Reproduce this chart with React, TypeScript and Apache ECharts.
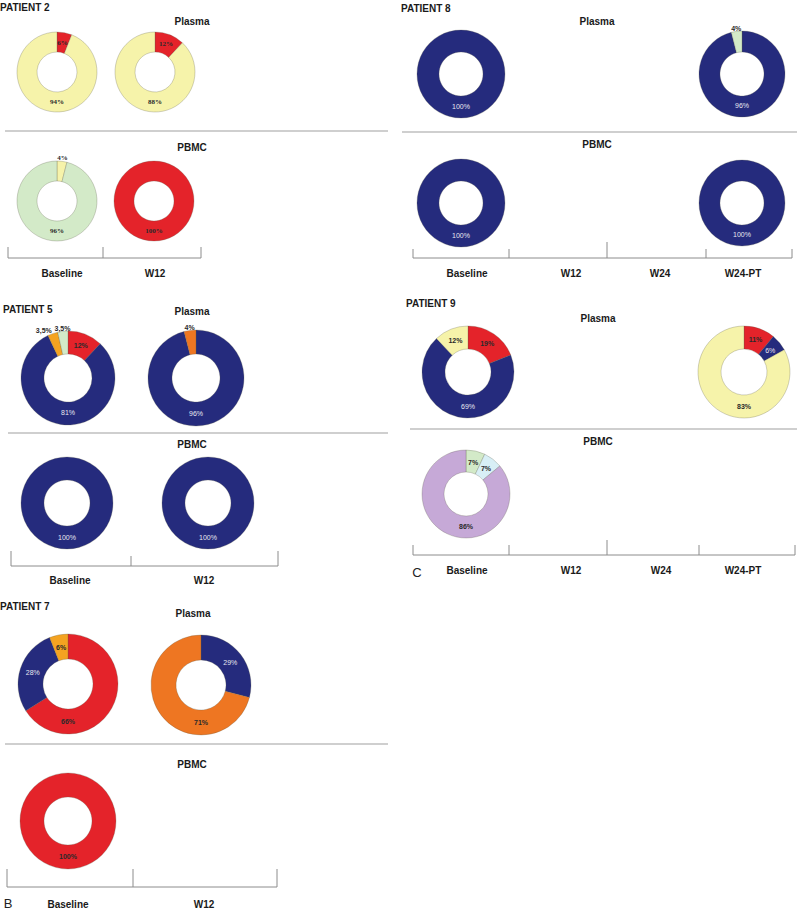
import React, { useEffect, useRef } from "react";
import * as echarts from "echarts";

// ---------- DATA ----------
const timepointsShort = ["Baseline", "W12"];
const timepointsLong = ["Baseline", "W12", "W24", "W24-PT"];

const p2PlasmaBaseline = [6, 94];
const p2PlasmaW12 = [12, 88];
const p2PbmcBaseline = [4, 96];
const p2PbmcW12 = [100];

const p5PlasmaBaseline = [12, 81, 3.5, 3.5];
const p5PlasmaW12 = [96, 4];
const p5PbmcBaseline = [100];
const p5PbmcW12 = [100];

const p7PlasmaBaseline = [66, 28, 6];
const p7PlasmaW12 = [29, 71];
const p7PbmcBaseline = [100];

const p8PlasmaBaseline = [100];
const p8PlasmaW24PT = [96, 4];
const p8PbmcBaseline = [100];
const p8PbmcW24PT = [100];

const p9PlasmaBaseline = [19, 69, 12];
const p9PlasmaW24PT = [11, 6, 83];
const p9PbmcBaseline = [7, 7, 86];

// ---------- STYLE ----------
const RED = "#E4232A";
const YEL = "#F6F3AA";
const LGRN = "#D3EAC8";
const NAVY = "#252B7D";
const ORG = "#EE7622";
const AMB = "#F4A321";
const LAV = "#C6A9D7";
const LBLU = "#D8EFF6";

type Donut = { values: number[]; colors: string[]; cx: number; cy: number; r: number; serif?: boolean };

const donuts: Donut[] = [
  { values: p2PlasmaBaseline, colors: [RED, YEL], cx: 57, cy: 72, r: 40, serif: true },
  { values: p2PlasmaW12, colors: [RED, YEL], cx: 155, cy: 72, r: 40, serif: true },
  { values: p2PbmcBaseline, colors: [YEL, LGRN], cx: 57, cy: 201, r: 40, serif: true },
  { values: p2PbmcW12, colors: [RED], cx: 154, cy: 201, r: 40, serif: true },

  { values: p5PlasmaBaseline, colors: [RED, NAVY, AMB, LGRN], cx: 68, cy: 378, r: 47 },
  { values: p5PlasmaW12, colors: [NAVY, ORG], cx: 196, cy: 378, r: 48 },
  { values: p5PbmcBaseline, colors: [NAVY], cx: 67, cy: 503, r: 46 },
  { values: p5PbmcW12, colors: [NAVY], cx: 208, cy: 503, r: 46 },

  { values: p7PlasmaBaseline, colors: [RED, NAVY, AMB], cx: 68, cy: 684, r: 50 },
  { values: p7PlasmaW12, colors: [NAVY, ORG], cx: 201, cy: 685, r: 50 },
  { values: p7PbmcBaseline, colors: [RED], cx: 68, cy: 821, r: 48 },

  { values: p8PlasmaBaseline, colors: [NAVY], cx: 461, cy: 74, r: 44 },
  { values: p8PlasmaW24PT, colors: [NAVY, LGRN], cx: 742, cy: 74, r: 43 },
  { values: p8PbmcBaseline, colors: [NAVY], cx: 461, cy: 203, r: 44 },
  { values: p8PbmcW24PT, colors: [NAVY], cx: 742, cy: 203, r: 43 },

  { values: p9PlasmaBaseline, colors: [RED, NAVY, YEL], cx: 468, cy: 372, r: 46 },
  { values: p9PlasmaW24PT, colors: [RED, NAVY, YEL], cx: 744, cy: 372, r: 46 },
  { values: p9PbmcBaseline, colors: [LGRN, LBLU, LAV], cx: 466, cy: 494, r: 44 },
];

type Panel = {
  title: string; tx: number; ty: number;
  plasma: [number, number]; pbmc: [number, number];
  sepY: number; sepX1: number; sepX2: number;
  brY: number; brTop: number; ticks: number[]; midTickTop?: number;
  labels: string[]; labelX: number[]; labelY: number;
  letter?: [string, number, number];
};

const panels: Panel[] = [
  { title: "PATIENT 2", tx: 0, ty: 7, plasma: [192, 21], pbmc: [192, 147], sepY: 131, sepX1: 5, sepX2: 388,
    brY: 258, brTop: 247, ticks: [8, 103, 201], labels: timepointsShort, labelX: [62, 155], labelY: 273 },
  { title: "PATIENT 5", tx: 3, ty: 309, plasma: [192, 311], pbmc: [192, 444], sepY: 433, sepX1: 8, sepX2: 388,
    brY: 566, brTop: 551, ticks: [11, 131, 278], midTickTop: 556, labels: timepointsShort, labelX: [70, 204], labelY: 580 },
  { title: "PATIENT 7", tx: 0, ty: 606, plasma: [193, 613], pbmc: [192, 764], sepY: 744, sepX1: 5, sepX2: 388,
    brY: 887, brTop: 869, ticks: [7, 133, 277], labels: timepointsShort, labelX: [68, 204], labelY: 904, letter: ["B", 8, 903] },
  { title: "PATIENT 8", tx: 401, ty: 8, plasma: [597, 21], pbmc: [597, 144], sepY: 132, sepX1: 402, sepX2: 797,
    brY: 258, brTop: 249, ticks: [413, 509, 607, 706, 792], midTickTop: 242, labels: timepointsLong, labelX: [467, 571, 660, 743], labelY: 273 },
  { title: "PATIENT 9", tx: 406, ty: 303, plasma: [598, 318], pbmc: [598, 441], sepY: 429, sepX1: 410, sepX2: 797,
    brY: 555, brTop: 545, ticks: [413, 509, 607, 699, 795], midTickTop: 540, labels: timepointsLong, labelX: [467, 571, 661, 743], labelY: 570, letter: ["C", 417, 572] },
];

const SANS = "Liberation Sans, Arial, sans-serif";
const SERIF = "Liberation Serif, Times New Roman, serif";
const SMALL = 5; // slices below this percentage get their label outside

function fmt(v: number) {
  return String(v).replace(".", ",") + "%";
}

function txt(x: number, y: number, s: string, size: number, weight: string, align: string = "center", family = SANS, fill = "#1a1a1a") {
  return {
    type: "text", x, y, silent: true,
    style: { text: s, fontSize: size, fontWeight: weight, fontFamily: family, fill, align, verticalAlign: "middle" },
  };
}
function ln(x1: number, y1: number, x2: number, y2: number, stroke = "#8c8c8c", w = 1) {
  return { type: "line", silent: true, shape: { x1, y1, x2, y2 }, style: { stroke, lineWidth: w } };
}

// label placement in the spirit of the original: big slice containing the bottom gets its label at the bottom,
// small slices get an outside label, others at the slice's mid angle
function labelPlacer(d: Donut) {
  const total = d.values.reduce((a, b) => a + b, 0);
  const spans: [number, number][] = [];
  let cum = 0;
  d.values.forEach((v) => {
    spans.push([(cum / total) * 360, ((cum + v) / total) * 360]);
    cum += v;
  });
  return (params: any) => {
    const i = params.dataIndex;
    const v = d.values[i];
    const [a0, a1] = spans[i];
    const outside = v < SMALL;
    let ang = (a0 + a1) / 2;
    if (!outside && a0 <= 180 && a1 >= 180) ang = 180;
    const rad = (ang * Math.PI) / 180;
    const rr = outside ? d.r + 3 : d.r * 0.74;
    const x = d.cx + rr * Math.sin(rad);
    const y = d.cy - rr * Math.cos(rad);
    let align = "center";
    if (outside && i + 1 < d.values.length && d.values[i + 1] < SMALL) align = "right";
    return { x, y, align, verticalAlign: "middle", hideOverlap: false, moveOverlap: undefined };
  };
}

function buildOption() {
  const graphic: any[] = [];
  panels.forEach((p) => {
    graphic.push(txt(p.tx, p.ty, p.title, 10, "bold", "left"));
    graphic.push(txt(p.plasma[0], p.plasma[1], "Plasma", 10, "bold"));
    graphic.push(txt(p.pbmc[0], p.pbmc[1], "PBMC", 10, "bold"));
    graphic.push(ln(p.sepX1, p.sepY, p.sepX2, p.sepY, "#a0a0a0", 1.2));
    graphic.push(ln(p.ticks[0], p.brY, p.ticks[p.ticks.length - 1], p.brY));
    p.ticks.forEach((t, i) => {
      const isMid = p.midTickTop !== undefined && i === Math.floor(p.ticks.length / 2);
      graphic.push(ln(t, isMid ? (p.midTickTop as number) : p.brTop, t, p.brY));
    });
    p.labels.forEach((l, i) => graphic.push(txt(p.labelX[i], p.labelY, l, 10, "bold")));
    if (p.letter) graphic.push(txt(p.letter[1], p.letter[2], p.letter[0], 13, "normal", "center", SANS, "#222"));
  });

  const series = donuts.map((d) => ({
    type: "pie",
    center: [d.cx, d.cy],
    radius: [Math.round(d.r * 0.5), d.r],
    startAngle: 90,
    clockwise: true,
    avoidLabelOverlap: false,
    silent: true,
    labelLine: { show: false },
    labelLayout: labelPlacer(d),
    itemStyle: { borderColor: "rgba(90,90,70,0.45)", borderWidth: 0.6 },
    data: d.values.map((v, i) => {
      const c = d.colors[i];
      const outside = v < SMALL;
      const onNavy = c === NAVY && !outside;
      return {
        value: v,
        name: "s" + i,
        itemStyle: { color: c },
        label: {
          show: true,
          position: "inside",
          formatter: fmt(v),
          fontSize: 7,
          fontFamily: d.serif ? SERIF : SANS,
          fontWeight: onNavy ? "normal" : "bold",
          color: onNavy ? "#e8e8f0" : "#2a2a2a",
        },
      };
    }),
  }));

  return { animation: false, backgroundColor: "#ffffff", graphic, series };
}

export default function App() {
  const ref = useRef<HTMLDivElement>(null);
  useEffect(() => {
    if (!ref.current) return;
    const chart = echarts.init(ref.current, undefined, { renderer: "svg" });
    chart.setOption(buildOption() as any);
    return () => chart.dispose();
  }, []);
  return <div ref={ref} style={{ position: "absolute", left: 0, top: 0, width: 800, height: 915 }} />;
}
